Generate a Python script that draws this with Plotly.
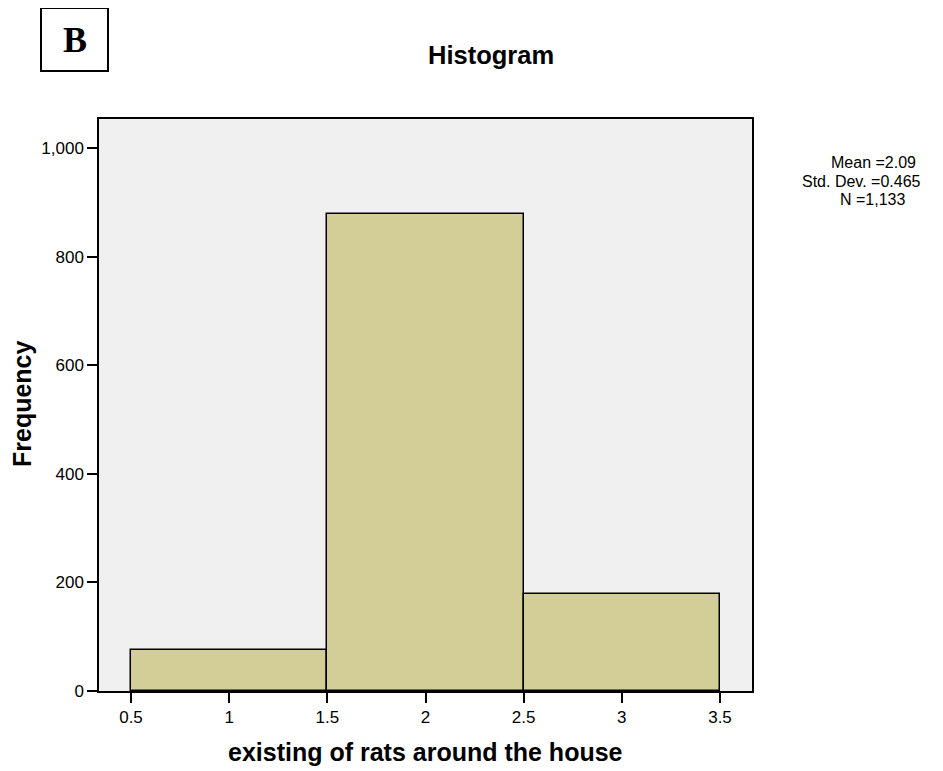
import plotly.graph_objects as go

# Data
bin_centers = [1, 2, 3]
frequencies = [75, 879, 179]
x_ticks = [0.5, 1, 1.5, 2, 2.5, 3, 3.5]
x_tick_labels = ["0.5", "1", "1.5", "2", "2.5", "3", "3.5"]
y_ticks = [0, 200, 400, 600, 800, 1000]
stats_lines = ["Mean =2.09", "Std. Dev. =0.465", "N =1,133"]

OFF = 8  # page body margin
W, H = 943 - OFF, 771 - OFF
# plot area in screen pixels
SL, SR, ST, SB = 99, 752, 119, 691
L, R, T, B = SL - OFF, SR - OFF, ST - OFF, SB - OFF

def px_x(p):
    return (p - OFF - L) / (R - L)

def px_y(p):
    return (B - (p - OFF)) / (B - T)

fig = go.Figure()
fig.add_trace(go.Bar(
    x=bin_centers, y=frequencies, width=1,
    marker=dict(color="#D3CE98", line=dict(color="black", width=1.5)),
    hoverinfo="x+y"
))

font = "Liberation Sans, Arial, sans-serif"
fig.update_layout(
    width=W, height=H,
    margin=dict(l=L, r=W - R, t=T, b=H - B, pad=0),
    paper_bgcolor="white", plot_bgcolor="#F0F0F0",
    showlegend=False, bargap=0,
    font=dict(family=font, color="black", size=17),
    xaxis=dict(range=[0.337, 3.663], tickvals=x_ticks, ticktext=x_tick_labels,
               ticks="outside", ticklen=10, tickwidth=1.5, tickcolor="black",
               showline=True, linecolor="black", linewidth=1.5, mirror=True,
               showgrid=False, zeroline=False, tickfont=dict(size=17)),
    yaxis=dict(range=[0, 1054], tickvals=y_ticks, tickformat=",",
               ticks="outside", ticklen=10, tickwidth=1.5, tickcolor="black",
               showline=True, linecolor="black", linewidth=1.5, mirror=True,
               showgrid=False, zeroline=False, tickfont=dict(size=17)),
)

annotations = [
    dict(text="<b>Histogram</b>", x=px_x(491), y=px_y(55), xref="paper", yref="paper",
         showarrow=False, font=dict(size=25.5, family=font), xanchor="center", yanchor="middle"),
    dict(text="<b>existing of rats around the house</b>", x=px_x(425), y=px_y(752),
         xref="paper", yref="paper", showarrow=False, font=dict(size=25, family=font),
         xanchor="center", yanchor="middle"),
    dict(text="<b>Frequency</b>", x=px_x(22), y=px_y(404), xref="paper", yref="paper",
         showarrow=False, textangle=-90, font=dict(size=25, family=font),
         xanchor="center", yanchor="middle"),
    dict(text="<b>B</b>", x=px_x(74.5), y=px_y(40), xref="paper", yref="paper",
         showarrow=False, font=dict(size=36, family="Liberation Serif, Times New Roman, serif"),
         xanchor="center", yanchor="middle"),
]
stat_x = [873, 861, 872]
for i, line in enumerate(stats_lines):
    annotations.append(dict(text=line, x=px_x(stat_x[i]), y=px_y(163 + 18 * i), xref="paper",
                            yref="paper", showarrow=False, font=dict(size=16, family=font),
                            xanchor="center", yanchor="middle"))
fig.update_layout(annotations=annotations)
fig.add_shape(type="rect", xref="paper", yref="paper",
              x0=px_x(41), x1=px_x(108), y0=px_y(71), y1=px_y(8),
              line=dict(color="black", width=2), fillcolor="rgba(0,0,0,0)")

fig.write_html("out.html")
